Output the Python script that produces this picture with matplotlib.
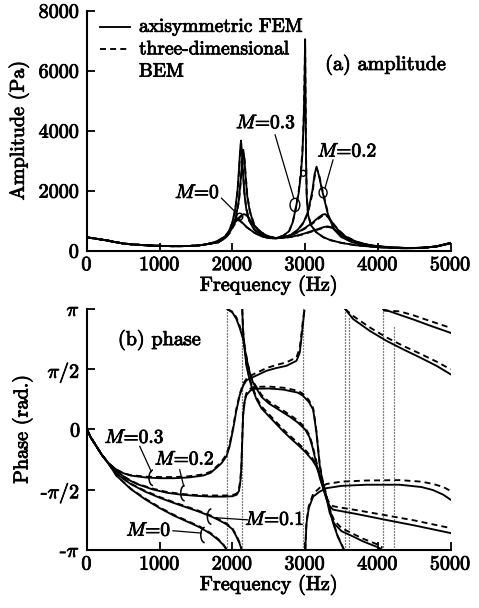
import numpy as np
import matplotlib
matplotlib.use("Agg")
import matplotlib.pyplot as plt
import matplotlib.patheffects as pe
from matplotlib.patches import Arc, Ellipse

plt.rcParams['font.family'] = 'cmr10'
plt.rcParams['mathtext.fontset'] = 'cm'
plt.rcParams['axes.formatter.use_mathtext'] = True
plt.rcParams['axes.unicode_minus'] = False

nan = np.nan
PI = np.pi

# ---------------- amplitude data (Pa) ----------------
amp_f_low = [0, 100, 200, 300, 400, 500, 600, 800, 1000, 1200, 1400, 1500, 1600, 1700]
amp_low = [440, 410, 370, 330, 280, 240, 215, 180, 160, 150, 155, 170, 195, 240]

amp_f_M03 = [1800, 1900, 1950, 2000, 2040, 2070, 2090, 2105, 2118, 2130, 2145, 2165, 2190, 2230, 2300,
             2400, 2500, 2600, 2700, 2780, 2830, 2870, 2910, 2940, 2962, 2980, 2992, 3000, 3006, 3013,
             3022, 3040, 3080, 3150, 3250, 3350, 3500, 3700, 4000, 4200, 4400, 4600, 4800, 5000]
amp_M03_fem = [330, 480, 640, 950, 1400, 2000, 2700, 3300, 3670, 3300, 2600, 1900, 1400, 1000, 700,
               520, 440, 420, 500, 650, 950, 1400, 1900, 2500, 3200, 4300, 5600, 7050, 5000, 3000,
               1800, 1200, 850, 620, 450, 350, 260, 180, 115, 90, 80, 95, 140, 260]
amp_M03_bem = [330, 480, 640, 940, 1380, 1950, 2600, 3200, 3600, 3350, 2700, 1950, 1420, 1010, 705,
               520, 440, 420, 500, 650, 950, 1400, 1950, 2600, 3300, 4400, 5800, 6900, 5200, 3100,
               1850, 1220, 860, 620, 450, 350, 260, 180, 115, 90, 80, 95, 140, 255]

amp_f_M02 = [1800, 1900, 2000, 2050, 2090, 2115, 2135, 2150, 2165, 2180, 2205, 2240, 2300, 2400, 2500,
             2600, 2700, 2800, 2900, 2980, 3040, 3100, 3130, 3157, 3190, 3230, 3270, 3320, 3400, 3500,
             3650, 3800, 4000, 4200, 4400, 4600, 4800, 5000]
amp_M02_fem = [300, 440, 780, 1150, 1700, 2400, 3000, 3360, 3050, 2500, 1800, 1300, 850, 560, 450,
               420, 440, 520, 700, 950, 1300, 2000, 2550, 2800, 2500, 2050, 1650, 1150, 700, 450,
               280, 190, 135, 100, 85, 95, 140, 255]
amp_M02_bem = [300, 440, 770, 1120, 1650, 2300, 2900, 3250, 3100, 2600, 1850, 1320, 860, 560, 450,
               420, 440, 520, 690, 930, 1270, 1900, 2450, 2750, 2550, 2100, 1700, 1180, 720, 460,
               285, 190, 135, 100, 85, 95, 140, 250]

amp_f_M01 = [1800, 1900, 1950, 2000, 2030, 2060, 2100, 2150, 2200, 2300, 2400, 2500, 2600, 2700, 2800,
             2900, 3000, 3100, 3180, 3240, 3275, 3310, 3370, 3450, 3550, 3700, 3850, 4000, 4200, 4400,
             4600, 4800, 5000]
amp_M01_fem = [270, 440, 620, 850, 980, 1050, 1020, 900, 780, 600, 480, 420, 410, 450, 520,
               620, 760, 930, 1100, 1200, 1220, 1150, 950, 700, 480, 300, 200, 150, 110, 90,
               95, 140, 255]
amp_M01_bem = [270, 430, 600, 820, 950, 1020, 1000, 890, 775, 600, 480, 420, 410, 445, 510,
               605, 740, 900, 1060, 1160, 1190, 1130, 950, 710, 490, 305, 205, 152, 112, 90,
               95, 138, 250]

amp_f_M00 = [1800, 1900, 1960, 2000, 2040, 2080, 2120, 2160, 2200, 2250, 2300, 2400, 2500, 2600, 2700,
             2800, 2900, 3000, 3100, 3200, 3260, 3310, 3360, 3420, 3500, 3600, 3750, 3900, 4100, 4300,
             4500, 4700, 4850, 5000]
amp_M00_fem = [280, 420, 600, 780, 950, 1080, 1170, 1220, 1180, 1000, 820, 600, 470, 420, 430,
               460, 510, 580, 660, 740, 790, 810, 780, 680, 520, 380, 250, 170, 120, 90,
               85, 110, 160, 250]
amp_M00_bem = [280, 410, 580, 750, 920, 1050, 1140, 1190, 1170, 1010, 830, 610, 475, 420, 425,
               455, 500, 565, 645, 720, 770, 790, 770, 680, 530, 390, 260, 175, 122, 92,
               85, 108, 155, 245]

# ---------------- phase data (rad), nan marks a 2*pi wrap ----------------
ph_f_M03 = [0, 50, 130, 200, 290, 400, 500, 600, 800, 1000, 1200, 1400, 1600, 1700, 1780, 1850, 1918,
            1960, 2009, 2050, 2101, 2150, 2193, 2250, 2300, 2468, 2600, 2743, 2881, 2926, 2950, 2970, 2990,
            nan, 3003, 3010, 3019, 3050, 3110, 3200, 3294, 3500, 3844, 4300, 4600, 4760, 4900, 5000]
ph_M03_fem = [0, -0.2, -0.44, -0.65, -0.87, -1.04, -1.14, -1.2, -1.25, -1.27, -1.27, -1.25, -1.2, -1.13,
              -1.0, -0.88, -0.7, -0.45, 0.0, 0.45, 0.9, 1.15, 1.28, 1.34, 1.38, 1.53, 1.6, 1.66, 1.79,
              2.0, 2.4, 2.75, 3.1,
              nan, -3.14, -2.8, -2.45, -2.05, -1.75, -1.62, -1.53, -1.47, -1.44, -1.44, -1.5, -1.58, -1.7, -1.83]
ph_M03_bem = [0, -0.2, -0.44, -0.65, -0.87, -1.04, -1.14, -1.19, -1.23, -1.24, -1.24, -1.22, -1.17, -1.1,
              -0.97, -0.84, -0.65, -0.4, 0.05, 0.5, 0.93, 1.2, 1.32, 1.4, 1.45, 1.6, 1.68, 1.75, 1.88,
              2.12, 2.5, 2.85, 3.12,
              nan, -3.14, -2.75, -2.4, -2.0, -1.68, -1.52, -1.42, -1.36, -1.33, -1.32, -1.36, -1.42, -1.5, -1.6]

ph_f_M02 = [0, 50, 130, 200, 290, 400, 500, 600, 700, 900, 1100, 1300, 1500, 1700, 1900, 2000, 2060,
            2090, 2110, 2124, 2135, 2147, 2170, 2193, 2250, 2300, 2500, 2700, 2900, 2970, 3050, 3110,
            3135, 3156, 3180, 3202, 3240, 3271, 3300, 3330, 3385, 3450, 3500, 3535,
            nan, 3550, 3660, 3890, 4120, 4348, 4577, 4807, 5000]
ph_M02_fem = [0, -0.2, -0.44, -0.65, -0.87, -1.07, -1.22, -1.34, -1.43, -1.56, -1.65, -1.7, -1.73, -1.75,
              -1.75, -1.74, -1.7, -1.6, -1.35, -0.96, -0.3, 0.35, 0.75, 0.9, 1.02, 1.06, 1.07, 1.04, 0.96,
              0.88, 0.72, 0.52, 0.2, -0.09, -0.55, -0.96, -1.35, -1.57, -1.8, -2.0, -2.44, -2.8, -3.0, -3.14,
              nan, 3.14, 2.88, 2.57, 2.31, 2.09, 1.88, 1.66, 1.44]
ph_M02_bem = [0, -0.2, -0.44, -0.65, -0.87, -1.07, -1.22, -1.33, -1.42, -1.54, -1.63, -1.68, -1.71, -1.72,
              -1.72, -1.71, -1.67, -1.56, -1.3, -0.9, -0.25, 0.4, 0.8, 0.95, 1.07, 1.11, 1.12, 1.09, 1.01,
              0.93, 0.77, 0.56, 0.24, -0.05, -0.5, -0.92, -1.32, -1.55, -1.78, -1.98, -2.42, -2.78, -2.98, -3.14,
              nan, 3.14, 2.96, 2.66, 2.4, 2.18, 1.98, 1.77, 1.57]

ph_f_M01 = [0, 50, 130, 200, 290, 404, 600, 800, 1000, 1200, 1400, 1551, 1711, 1800, 1918, 2000, 2055,
            2100, 2128,
            nan, 2135, 2147, 2170, 2193, 2230, 2262, 2331, 2400, 2500, 2600, 2700, 2800, 2900, 3000, 3100,
            3150, 3200, 3250, 3300, 3339, 3400, 3500, 3660, 3800, 4000, 4065,
            nan, 4073, 4300, 4500, 4700, 5000]
ph_M01_fem = [0, -0.2, -0.44, -0.65, -0.87, -1.15, -1.42, -1.62, -1.78, -1.92, -2.05, -2.15, -2.27, -2.35,
              -2.47, -2.6, -2.79, -2.98, -3.14,
              nan, 3.14, 2.55, 2.05, 1.66, 1.35, 1.13, 0.79, 0.55, 0.35, 0.15, -0.05, -0.23, -0.4, -0.58,
              -0.8, -0.95, -1.18, -1.5, -1.85, -2.18, -2.45, -2.65, -2.79, -2.92, -3.07, -3.14,
              nan, 3.14, 2.99, 2.86, 2.72, 2.52]
ph_M01_bem = [0, -0.2, -0.44, -0.65, -0.87, -1.15, -1.41, -1.6, -1.76, -1.9, -2.03, -2.13, -2.25, -2.33,
              -2.45, -2.58, -2.76, -2.95, -3.14,
              nan, 3.14, 2.6, 2.1, 1.7, 1.38, 1.17, 0.84, 0.6, 0.4, 0.2, 0.0, -0.18, -0.35, -0.53,
              -0.75, -0.9, -1.14, -1.47, -1.8, -2.1, -2.37, -2.57, -2.72, -2.85, -3.0, -3.08,
              nan, 3.1, 3.08, 2.97, 2.84, 2.65]

ph_f_M00 = [0, 50, 130, 200, 290, 404, 600, 800, 1000, 1200, 1400, 1551, 1700, 1800, 1870, 1925,
            nan, 1930, 2000, 2055, 2100, 2147, 2180, 2216, 2250, 2284, 2400, 2500, 2600, 2700, 2800, 2900,
            3000, 3060, 3100, 3150, 3200, 3250, 3300, 3340, 3385, 3500, 3700, 4120, 4500, 5000]
ph_M00_fem = [0, -0.2, -0.44, -0.65, -0.87, -1.2, -1.55, -1.82, -2.05, -2.25, -2.42, -2.55, -2.72, -2.87,
              -3.0, -3.14,
              nan, 3.14, 3.05, 2.88, 2.65, 2.36, 2.0, 1.66, 1.4, 1.22, 0.85, 0.68, 0.56, 0.44, 0.32, 0.18,
              0.0, -0.2, -0.45, -0.85, -1.25, -1.55, -1.85, -2.0, -2.09, -2.13, -2.2, -2.36, -2.5, -2.7]
ph_M00_bem = [0, -0.2, -0.44, -0.65, -0.87, -1.2, -1.54, -1.8, -2.03, -2.23, -2.4, -2.53, -2.7, -2.85,
              -2.98, -3.14,
              nan, 3.14, 3.07, 2.92, 2.7, 2.4, 2.03, 1.68, 1.42, 1.25, 0.9, 0.73, 0.61, 0.49, 0.37, 0.23,
              0.05, -0.15, -0.4, -0.8, -1.2, -1.52, -1.8, -1.93, -2.0, -2.04, -2.1, -2.24, -2.37, -2.57]

# dotted wrap connectors (frequency, upper end)
wrap_f = [1930, 2130, 2975, 3550, 3605, 4065, 4220]
wrap_top = [PI, PI, PI, PI, 2.97, PI, 2.7]

amp_xticks = [0, 1000, 2000, 3000, 4000, 5000]
amp_yticks = [0, 2000, 4000, 6000, 8000]
ph_yticks = [-PI, -PI / 2, 0, PI / 2, PI]
ph_yticklabels = [r'-$\pi$', r'-$\pi$/2', '0', r'$\pi$/2', r'$\pi$']

# ---------------- figure ----------------
fig = plt.figure(figsize=(4.79, 6.08), dpi=100)
ax1 = fig.add_axes([0.1816, 0.5877, 0.759, 0.3947])
ax2 = fig.add_axes([0.1816, 0.0954, 0.759, 0.3964])

LW = 1.35
DASH = (0, (3.2, 2.2))
FS = 14.5

for ax in (ax1, ax2):
    for s in ('top', 'right'):
        ax.spines[s].set_visible(False)
    for s in ('left', 'bottom'):
        ax.spines[s].set_linewidth(1.5)
    ax.tick_params(direction='in', length=6, width=1.3, labelsize=FS)
    ax.tick_params(axis='x', pad=4)
    ax.tick_params(axis='y', pad=5)
    ax.set_xlim(0, 5000)
    ax.set_xticks(amp_xticks)

# amplitude curves
amp_sets = [(amp_f_M03, amp_M03_fem, amp_M03_bem), (amp_f_M02, amp_M02_fem, amp_M02_bem),
            (amp_f_M01, amp_M01_fem, amp_M01_bem), (amp_f_M00, amp_M00_fem, amp_M00_bem)]
for f, fem, bem in amp_sets:
    ff = amp_f_low + f
    ax1.plot(ff, amp_low + bem, color='black', lw=LW, ls=DASH)
    ax1.plot(ff, amp_low + fem, color='black', lw=LW)
ax1.set_ylim(0, 8000)
ax1.set_yticks(amp_yticks)
ax1.set_xlabel('Frequency (Hz)', fontsize=FS, labelpad=1)
ax1.set_ylabel('Amplitude (Pa)', fontsize=FS)
ax1.yaxis.set_label_coords(-0.16, 0.5)

# legend drawn by hand
ax1.plot([0.036, 0.118], [0.933, 0.933], transform=ax1.transAxes, color='black', lw=LW)
ax1.plot([0.036, 0.118], [0.839, 0.839], transform=ax1.transAxes, color='black', lw=LW, ls=DASH)
ax1.text(0.143, 0.933, 'axisymmetric FEM', transform=ax1.transAxes, fontsize=14, va='center')
ax1.text(0.143, 0.839, 'three-dimensional', transform=ax1.transAxes, fontsize=14, va='center')
ax1.text(0.143, 0.746, 'BEM', transform=ax1.transAxes, fontsize=14, va='center')
ax1.text(0.655, 0.774, '(a) amplitude', transform=ax1.transAxes, fontsize=FS, va='center')

# amplitude annotations: (label, text xy, line start, line end, ring center, ring w, ring h)
amp_ann = [(r'$M$=0', (1520, 1923), (1850, 1750), (2060, 1240), (2100, 1133), 85, 230),
           (r'$M$=0.3', (2463, 4247), (2587, 3860), (2845, 1740), (2860, 1523), 135, 440),
           (r'$M$=0.2', (3581, 3300), (3383, 3023), (3275, 2100), (3247, 1933), 110, 340)]
for lab, txy, l0, l1, c, w, h in amp_ann:
    ax1.text(txy[0], txy[1], lab, fontsize=14, ha='center', va='center')
    ax1.plot([l0[0], l1[0]], [l0[1], l1[1]], color='black', lw=0.9)
    ax1.add_patch(Ellipse(c, w, h, fill=False, lw=1.0, color='black'))
ax1.add_patch(Ellipse((2975, 2580), 70, 200, fill=False, lw=1.0, color='black'))

# phase curves
ax2.vlines(wrap_f, [-PI] * len(wrap_f), wrap_top, colors='black', linestyles=(0, (0.8, 1.6)), lw=0.9)
ph_sets = [(ph_f_M03, ph_M03_fem, ph_M03_bem), (ph_f_M02, ph_M02_fem, ph_M02_bem),
           (ph_f_M01, ph_M01_fem, ph_M01_bem), (ph_f_M00, ph_M00_fem, ph_M00_bem)]
for f, fem, bem in ph_sets:
    ax2.plot(f, bem, color='black', lw=LW, ls=DASH)
    ax2.plot(f, fem, color='black', lw=LW)
ax2.set_ylim(-PI, PI)
ax2.set_yticks(ph_yticks)
ax2.set_yticklabels(ph_yticklabels)
ax2.set_xlabel('Frequency (Hz)', fontsize=FS, labelpad=1)
ax2.set_ylabel('Phase (rad.)', fontsize=FS)
ax2.yaxis.set_label_coords(-0.15, 0.5)
ax2.text(0.085, 0.871, '(b) phase', transform=ax2.transAxes, fontsize=FS, va='center')

ph_ann = [(r'$M$=0.3', (656, -0.22), (726, -0.44), (885, -1.1), (908, -1.26)),
          (r'$M$=0.2', (1344, -0.785), (1275, -1.05), (1330, -1.48), (1344, -1.66)),
          (r'$M$=0.1', (2583, -2.356), (2215, -2.356), (1765, -2.3), (1711, -2.27)),
          (r'$M$=0', (850, -2.64), (1183, -2.64), (1570, -2.7), (1620, -2.75))]
for lab, txy, l0, l1, c in ph_ann:
    ax2.text(txy[0], txy[1], lab, fontsize=14, ha='center', va='center')
    ax2.plot([l0[0], l1[0]], [l0[1], l1[1]], color='black', lw=0.9)
    ax2.add_patch(Arc(c, 110, 0.4, theta1=70, theta2=290, lw=1.1, color='black'))

# heavier, scan-like lettering
for t in fig.findobj(matplotlib.text.Text):
    t.set_path_effects([pe.withStroke(linewidth=0.6, foreground='black')])

fig.savefig('out.png', dpi=100)
